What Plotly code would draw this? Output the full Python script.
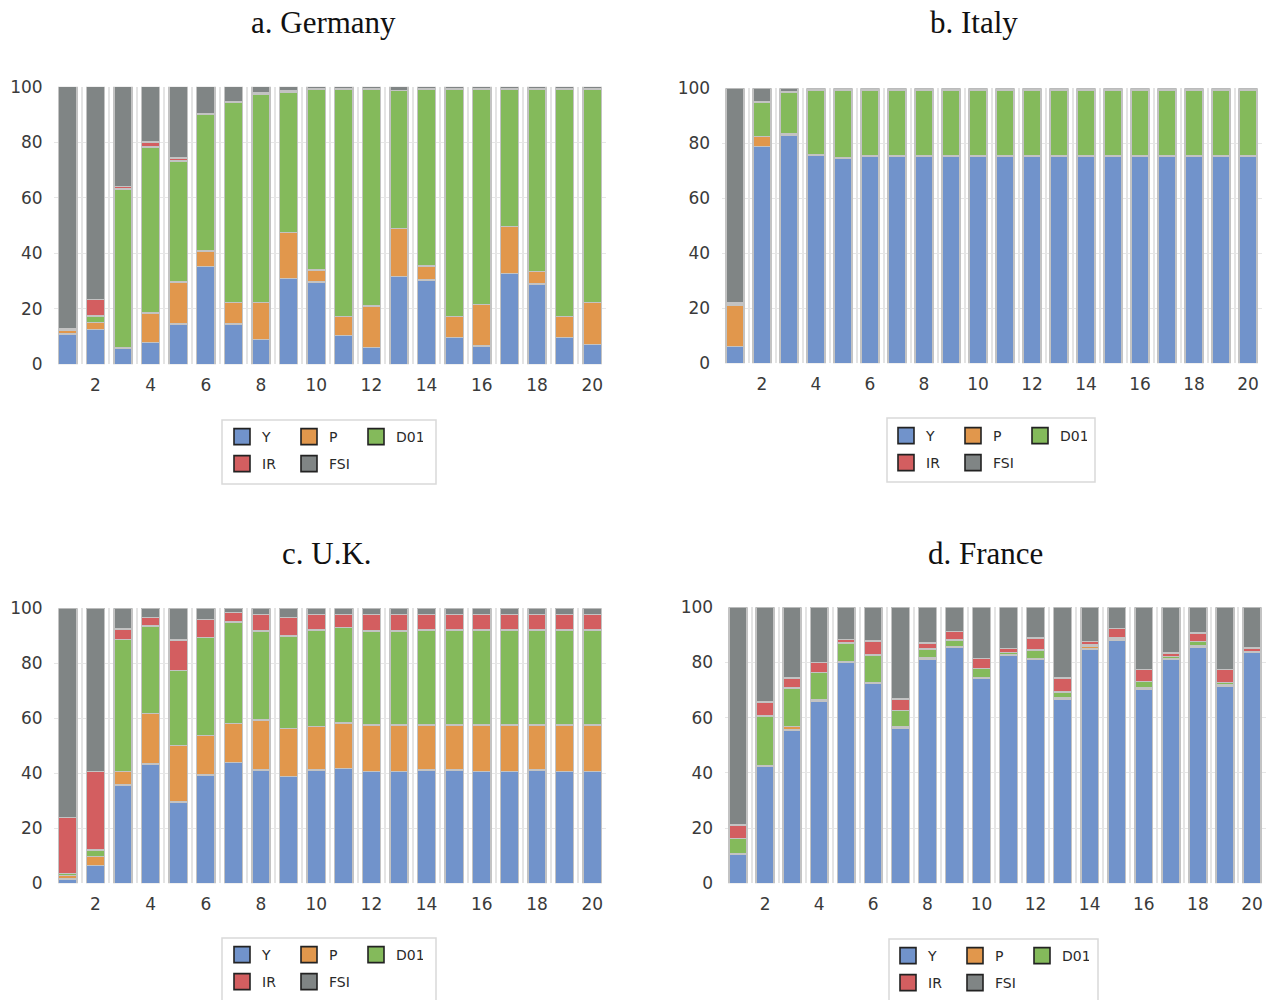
import plotly.graph_objects as go

W, H = 1271, 1000
periods = list(range(1, 21))
series_names = ["Y", "P", "D01", "IR", "FSI"]
colors = ["#7193CB", "#E1974C", "#84BA5B", "#D35E60", "#808585"]

# ---- Germany ----
de_Y = [11, 12.6, 5.8, 7.8, 14.5, 35.2, 14.5, 9, 30.9, 29.7, 10.3, 6.1, 31.6, 30.4, 9.7, 6.6, 32.8, 29, 9.7, 7.1]
de_P = [1.2, 2.5, 0.3, 10.6, 15.2, 5.6, 7.7, 13.2, 16.6, 4.3, 6.9, 14.9, 17.4, 5, 7.5, 15, 16.8, 4.4, 7.5, 15.1]
de_D01 = [0.3, 2.3, 57, 59.8, 43.5, 49.2, 72.3, 75.2, 50.6, 65.2, 82, 78.2, 49.6, 63.8, 82, 77.6, 49.6, 65.8, 82, 77]
de_IR = [0.3, 6, 1, 1.8, 1.2, 0.3, 0.2, 0.6, 0.5, 0.1, 0.1, 0.1, 0.1, 0.1, 0.1, 0.1, 0.1, 0.1, 0.1, 0.1]
de_FSI = [87.2, 76.6, 35.9, 20, 25.6, 9.7, 5.3, 2, 1.4, 0.7, 0.7, 0.7, 1.3, 0.7, 0.7, 0.7, 0.7, 0.7, 0.7, 0.7]

# ---- Italy ----
it_Y = [6.1, 78.8, 83, 75.6, 74.5, 75.3, 75.3, 75.3, 75.3, 75.3, 75.3, 75.3, 75.3, 75.3, 75.3, 75.3, 75.3, 75.3, 75.3, 75.3]
it_P = [15.1, 3.6, 0.3, 0.1, 0.1, 0.1, 0.1, 0.1, 0.1, 0.1, 0.1, 0.1, 0.1, 0.1, 0.1, 0.1, 0.1, 0.1, 0.1, 0.1]
it_D01 = [0.5, 12.5, 15.2, 23.7, 24.8, 24, 24, 24, 24, 24, 24, 24, 24, 24, 24, 24, 24, 24, 24, 24]
it_IR = [0.5, 0.1, 0.1, 0.1, 0.1, 0.1, 0.1, 0.1, 0.1, 0.1, 0.1, 0.1, 0.1, 0.1, 0.1, 0.1, 0.1, 0.1, 0.1, 0.1]
it_FSI = [77.8, 5, 1.4, 0.5, 0.5, 0.5, 0.5, 0.5, 0.5, 0.5, 0.5, 0.5, 0.5, 0.5, 0.5, 0.5, 0.5, 0.5, 0.5, 0.5]

# ---- U.K. ----
uk_Y = [1.5, 6.5, 35.8, 43.4, 29.6, 39.4, 43.9, 41.2, 38.8, 41.2, 41.8, 40.6, 40.6, 41.2, 41.2, 40.6, 40.6, 41.2, 40.6, 40.6]
uk_P = [1.3, 3.2, 4.8, 18.4, 20.5, 14.3, 14.2, 18.2, 17.4, 15.8, 16.4, 16.9, 16.9, 16.3, 16.3, 16.9, 16.9, 16.3, 16.9, 16.9]
uk_D01 = [0.8, 2.4, 48.1, 31.8, 27.2, 35.6, 36.9, 32.4, 33.7, 35.1, 34.8, 34.3, 34.3, 34.6, 34.6, 34.6, 34.6, 34.6, 34.6, 34.6]
uk_IR = [20.3, 28.6, 3.7, 3, 11.2, 6.7, 3.4, 5.9, 6.7, 5.7, 4.8, 6, 6, 5.7, 5.7, 5.7, 5.7, 5.7, 5.7, 5.7]
uk_FSI = [76.1, 59.3, 7.6, 3.4, 11.5, 4, 1.6, 2.3, 3.4, 2.2, 2.2, 2.2, 2.2, 2.2, 2.2, 2.2, 2.2, 2.2, 2.2, 2.2]

# ---- France ----
fr_Y = [10.5, 42.5, 55.6, 66.1, 80, 72.5, 56.2, 81.2, 85.5, 74.3, 82.5, 81.3, 66.8, 84.8, 87.9, 70.4, 81.2, 85.5, 71.3, 83.7]
fr_P = [0.3, 0.1, 1.2, 0.5, 0.1, 0.1, 0.5, 0.5, 0.3, 0.1, 0.3, 0.1, 0.5, 1.2, 0.5, 0.3, 0.2, 0.5, 0.5, 0.2]
fr_D01 = [5.5, 18.1, 13.9, 9.7, 7, 10.2, 5.9, 3.2, 2.4, 3.4, 0.9, 3.2, 2.1, 0.5, 0.5, 2.4, 0.8, 1.6, 0.9, 0.1]
fr_IR = [4.8, 4.9, 3.6, 3.7, 1.2, 4.9, 4.2, 2.1, 3, 3.6, 1.3, 4.3, 4.9, 1.1, 3.4, 4.4, 1.3, 3, 4.8, 1.2]
fr_FSI = [78.9, 34.4, 25.7, 20, 11.7, 12.3, 33.2, 13, 8.8, 18.6, 15, 11.1, 25.7, 12.4, 7.7, 22.5, 16.5, 9.4, 22.5, 14.8]

titles = ["a. Germany", "b. Italy", "c. U.K.", "d. France"]
x_ticks = [2, 4, 6, 8, 10, 12, 14, 16, 18, 20]
y_ticks = [0, 20, 40, 60, 80, 100]

panels = [
    dict(data=[de_Y, de_P, de_D01, de_IR, de_FSI], xpx=(54, 606), ypx=(86.7, 364.3),
         title_xy=(323, 22), leg=(233, 437, 464), box=(222, 420, 436, 484)),
    dict(data=[it_Y, it_P, it_D01, it_IR, it_FSI], xpx=(721.5, 1261.5), ypx=(88.3, 363.3),
         title_xy=(974, 22), leg=(897, 436, 463), box=(887, 418, 1095, 482)),
    dict(data=[uk_Y, uk_P, uk_D01, uk_IR, uk_FSI], xpx=(54, 606), ypx=(608.3, 883.3),
         title_xy=(327, 553), leg=(233, 955, 982), box=(222, 938, 436, 1010)),
    dict(data=[fr_Y, fr_P, fr_D01, fr_IR, fr_FSI], xpx=(724.5, 1265.5), ypx=(607.3, 883.3),
         title_xy=(985, 553), leg=(899, 956, 983), box=(889, 939, 1098, 1010)),
]

tick_font = dict(family="DejaVu Sans", size=17, color="#3a3a3a")
leg_font = dict(family="DejaVu Sans", size=14, color="#2a2a2a")

fig = go.Figure()
layout = dict(width=W, height=H, margin=dict(l=0, r=0, t=0, b=0, autoexpand=False),
              paper_bgcolor="white", plot_bgcolor="white", barmode="stack",
              bargap=0.34, showlegend=True)
annotations = []
shapes = []

for i, p in enumerate(panels):
    k = i + 1
    xa = "x" if k == 1 else f"x{k}"
    ya = "y" if k == 1 else f"y{k}"
    l1 = "legend" if k == 1 else f"legend{2 * k - 1}"
    l2 = f"legend{2 * k}"
    for j, name in enumerate(series_names):
        fig.add_trace(go.Bar(
            x=periods, y=p["data"][j], name=name, xaxis=xa, yaxis=ya,
            marker=dict(color=colors[j], line=dict(color="#C3C3C3", width=1.5)),
            showlegend=False, hoverinfo="skip"))
    for j, name in enumerate(series_names):
        fig.add_trace(go.Scatter(
            x=[None], y=[None], mode="markers", name=name, xaxis=xa, yaxis=ya,
            marker=dict(symbol="square", size=16, color=colors[j],
                        line=dict(color="#222222", width=1.6)),
            legend=l1 if j < 3 else l2, showlegend=True))

    x0, x1 = p["xpx"]
    y0, y1 = p["ypx"]
    xkey = "xaxis" if k == 1 else f"xaxis{k}"
    ykey = "yaxis" if k == 1 else f"yaxis{k}"
    layout[xkey] = dict(domain=[x0 / W, x1 / W], anchor=ya, range=[0.5, 20.5],
                        tickvals=x_ticks, ticktext=[str(v) for v in x_ticks],
                        showgrid=False, zeroline=False, showline=False,
                        ticks="outside", ticklen=5, tickcolor="rgba(0,0,0,0)",
                        tickfont=tick_font,
                        minor=dict(tick0=0.5, dtick=1, showgrid=True,
                                   gridcolor="#E4E4E4", gridwidth=1.5, ticks=""))
    layout[ykey] = dict(domain=[1 - y1 / H, 1 - y0 / H], anchor=xa, range=[0, 100],
                        tickvals=y_ticks, showgrid=True, gridcolor="#E6E6E6", gridwidth=1,
                        zeroline=False, showline=False,
                        ticks="outside", ticklen=7, tickcolor="rgba(0,0,0,0)",
                        tickfont=tick_font)

    tx, ty = p["title_xy"]
    annotations.append(dict(text=titles[i], x=tx / W, y=1 - ty / H, xref="paper", yref="paper",
                            xanchor="center", yanchor="middle", showarrow=False,
                            font=dict(family="Liberation Serif", size=31, color="#111111")))

    sx, r1, r2 = p["leg"]
    for lk, ry in ((l1, r1), (l2, r2)):
        layout[lk] = dict(x=(sx + 9 - 20) / W, y=1 - ry / H, xanchor="left", yanchor="middle",
                          orientation="h", entrywidth=22, entrywidthmode="pixels",
                          traceorder="normal",
                          bgcolor="rgba(0,0,0,0)", borderwidth=0, font=leg_font,
                          itemclick=False, itemdoubleclick=False)
    bx0, by0, bx1, by1 = p["box"]
    shapes.append(dict(type="rect", xref="paper", yref="paper",
                       x0=bx0 / W, x1=bx1 / W, y0=1 - by1 / H, y1=1 - by0 / H,
                       line=dict(color="#D9D9D9", width=1.5), fillcolor="rgba(0,0,0,0)"))

layout["annotations"] = annotations
layout["shapes"] = shapes
fig.update_layout(**layout)
fig.write_html("out.html")
